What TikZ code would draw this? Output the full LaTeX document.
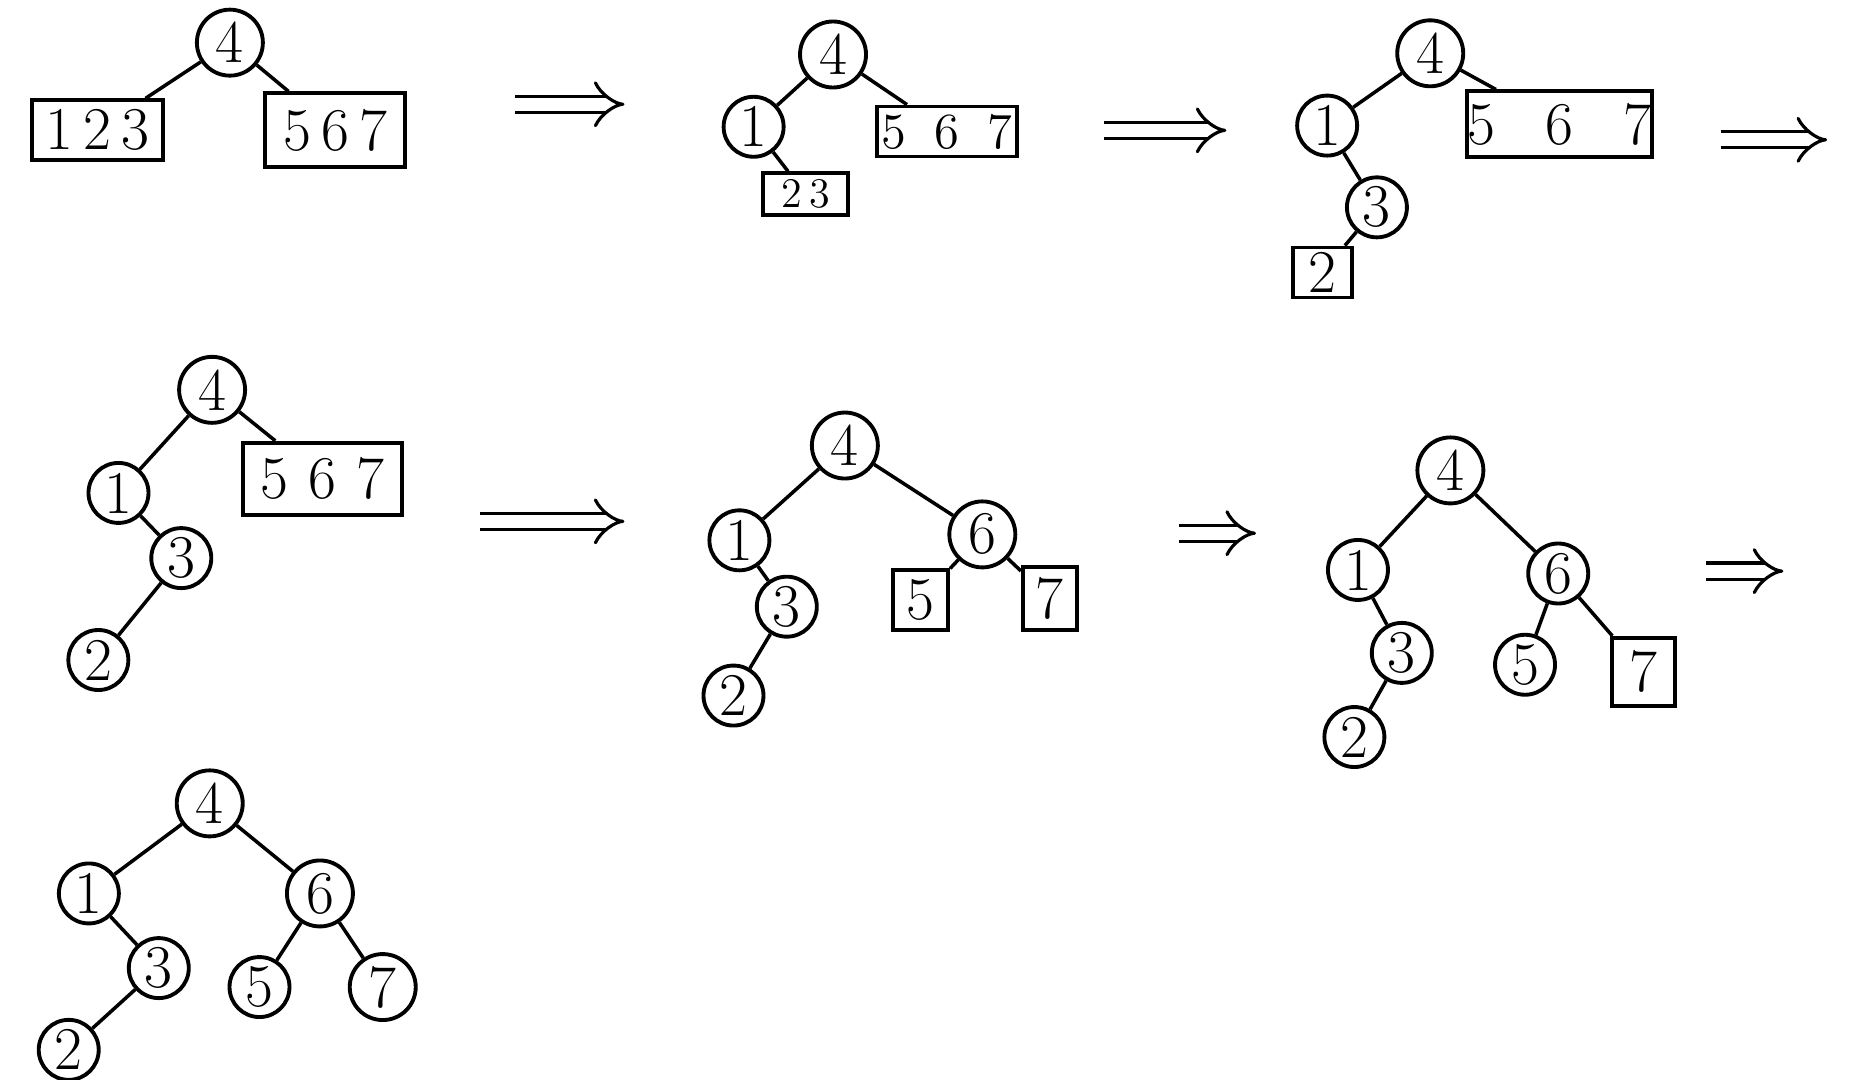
\documentclass[tikz,border=0pt]{standalone}
\usetikzlibrary{arrows.meta}
\tikzset{
    % Nodes
    vtx/.style={circle, draw, line width=1.1pt, minimum size=6mm, inner sep=0pt, font=\LARGE},
    top/.style={vtx, minimum size=6.6mm},
    blk/.style={rectangle, draw, line width=1.1pt, inner sep=0pt, font=\LARGE},
    % Lines
    edge/.style={line width=1pt},
    goto/.style={double, double distance=1.3mm, line width=0.9pt, -{Implies}}
}

\begin{document}
\begin{tikzpicture}[x=0.1185mm, y=-0.1185mm]
\useasboundingbox (0,0) rectangle (1568,911);

% Etape 1
\node[top] (4a) at (194,36) {4};
\node[blk, minimum width=13.1mm, minimum height=6mm] (b123a) at (82,110) {1\,2\,3};
\node[blk, minimum width=14mm, minimum height=7.4mm] (b567a) at (283,110) {5\,6\,7};
\draw[edge] (4a) -- (b123a);
\draw[edge] (4a) -- (b567a);

% Etape 2
\node[top] (4b) at (703,46) {4};
\node[vtx] (1b) at (636,107) {1};
\node[blk, font=\large, minimum width=8.5mm, minimum height=4.2mm] (b23b) at (680,164) {2\,3};
\node[blk, font=\Large, minimum width=14mm, minimum height=5mm] (b567b) at (799,111) {5\;\;6\;\;7};
\draw[edge] (4b) -- (1b);
\draw[edge] (4b) -- (b567b);
\draw[edge] (1b) -- (b23b);

% Etape 3
\node[top] (4c) at (1207,45) {4};
\node[vtx] (1c) at (1120,106) {1};
\node[vtx] (3c) at (1162,175) {3};
\node[blk, minimum width=5.9mm, minimum height=5mm] (b2c) at (1116,230) {2};
\node[blk, minimum width=17.6mm, minimum height=6.6mm] (b567c) at (1316,105) {5\;\;\;6\;\;\;7};
\draw[edge] (4c) -- (1c);
\draw[edge] (4c) -- (b567c);
\draw[edge] (1c) -- (3c);
\draw[edge] (3c) -- (b2c);

% Etape 4
\node[top] (4d) at (179,329) {4};
\node[vtx] (1d) at (100,416) {1};
\node[vtx] (3d) at (153,471) {3};
\node[vtx] (2d) at (83,557) {2};
\node[blk, minimum width=15.9mm, minimum height=7.2mm] (b567d) at (272,404) {5\,\,6\,\,7};
\draw[edge] (4d) -- (1d);
\draw[edge] (4d) -- (b567d);
\draw[edge] (1d) -- (3d);
\draw[edge] (3d) -- (2d);

% Etape 5
\node[top] (4e) at (713,376) {4};
\node[vtx] (1e) at (624,456) {1};
\node[vtx] (3e) at (664,512) {3};
\node[vtx] (2e) at (619,587) {2};
\node[top] (6e) at (829,451) {6};
\node[blk, minimum width=5.5mm, minimum height=6mm] (b5e) at (777,506) {5};
\node[blk, minimum width=5.4mm, minimum height=6.3mm] (b7e) at (886,505) {7};
\draw[edge] (4e) -- (1e);
\draw[edge] (4e) -- (6e);
\draw[edge] (1e) -- (3e);
\draw[edge] (3e) -- (2e);
\draw[edge] (6e) -- (b5e);
\draw[edge] (6e) -- (b7e);

% Etape 6
\node[top] (4f) at (1224,397) {4};
\node[vtx] (1f) at (1146,481) {1};
\node[vtx] (3f) at (1183,551) {3};
\node[vtx] (2f) at (1143,622) {2};
\node[vtx] (6f) at (1315,484) {6};
\node[vtx] (5f) at (1287,561) {5};
\node[blk, minimum width=6.3mm, minimum height=6.8mm] (b7f) at (1387,567) {7};
\draw[edge] (4f) -- (1f);
\draw[edge] (4f) -- (6f);
\draw[edge] (1f) -- (3f);
\draw[edge] (3f) -- (2f);
\draw[edge] (6f) -- (5f);
\draw[edge] (6f) -- (b7f);

% Etape 7
\node[top] (4g) at (177,678) {4};
\node[vtx] (1g) at (75,754) {1};
\node[vtx] (3g) at (134,817) {3};
\node[vtx] (2g) at (58,886) {2};
\node[top] (6g) at (270,754) {6};
\node[vtx] (5g) at (219,833) {5};
\node[top] (7g) at (323,833) {7};
\draw[edge] (4g) -- (1g);
\draw[edge] (4g) -- (6g);
\draw[edge] (1g) -- (3g);
\draw[edge] (3g) -- (2g);
\draw[edge] (6g) -- (5g);
\draw[edge] (6g) -- (7g);

% Fleches
\coordinate (a1s) at (435,88);  \coordinate (a1e) at (527,88);
\coordinate (a2s) at (932,110); \coordinate (a2e) at (1035,110);
\coordinate (a3s) at (1452,118); \coordinate (a3e) at (1542,118);
\coordinate (a4s) at (405,440); \coordinate (a4e) at (527,440);
\coordinate (a5s) at (995,450); \coordinate (a5e) at (1060,450);
\coordinate (a6s) at (1440,482); \coordinate (a6e) at (1505,482);
\foreach \i in {1,...,6}
    \draw[goto] (a\i s) -- (a\i e);

\end{tikzpicture}
\end{document}
